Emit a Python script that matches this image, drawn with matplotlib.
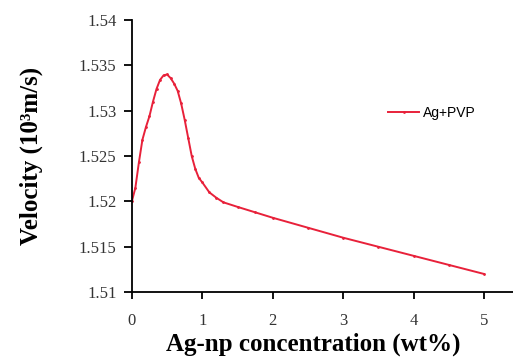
import matplotlib.pyplot as plt
from matplotlib.ticker import FormatStrFormatter

# concentration (wt%) and velocity (10^3 m/s)
conc = [0, 0.05, 0.1, 0.15, 0.2, 0.25, 0.3, 0.35, 0.4, 0.45, 0.5, 0.55, 0.6,
        0.65, 0.7, 0.75, 0.8, 0.85, 0.9, 0.95, 1.0, 1.1, 1.2, 1.3, 1.5, 1.75,
        2, 2.5, 3, 3.5, 4, 4.5, 5]
velocity = [1.5200, 1.5215, 1.5243, 1.5268, 1.5282, 1.5294, 1.5310, 1.5324,
            1.5334, 1.5339, 1.5340, 1.5336, 1.5330, 1.5322, 1.5308, 1.5290,
            1.5270, 1.5250, 1.5236, 1.5226, 1.5221, 1.5210, 1.5204, 1.5199,
            1.5194, 1.5188, 1.5182, 1.5171, 1.5160, 1.5150, 1.5140, 1.5130,
            1.5120]
x_ticks = [0, 1, 2, 3, 4, 5]
y_ticks = [1.51, 1.515, 1.52, 1.525, 1.53, 1.535, 1.54]

fig = plt.figure(figsize=(5.13, 3.58), dpi=100)
ax = fig.add_axes([0.257, 0.184, 0.743, 0.76])

ax.plot(conc, velocity, color='#e8213a', linewidth=1.4, marker='.',
        markersize=2, label='Ag+PVP')

ax.set_xlim(0, 5.41)
ax.set_ylim(1.51, 1.54)
ax.set_xticks(x_ticks)
ax.set_yticks(y_ticks)
ax.yaxis.set_major_formatter(FormatStrFormatter('%g'))

ax.spines['top'].set_visible(False)
ax.spines['right'].set_visible(False)
ax.spines['left'].set_linewidth(1.3)
ax.spines['bottom'].set_linewidth(1.3)

for lab in ax.get_xticklabels() + ax.get_yticklabels():
    lab.set_family('Liberation Serif')
    lab.set_fontsize(12)
    lab.set_color('#333333')
ax.tick_params(axis='x', direction='out', length=5, width=1.3, pad=10)
ax.tick_params(axis='y', direction='out', length=6, width=1.3, pad=5)

ax.set_xlabel('Ag-np concentration (wt%)', family='Liberation Serif',
              fontweight='bold', fontsize=18)
ax.xaxis.set_label_coords(0.476, -0.15)
ax.set_ylabel('Velocity (10³m/s)', family='Liberation Serif',
              fontweight='bold', fontsize=18)
ax.yaxis.set_label_coords(-0.234, 0.5)

ax.legend(loc='center left', bbox_to_anchor=(0.64, 0.66), frameon=False,
          prop={'family': 'Liberation Sans', 'size': 10}, handlelength=2.2,
          handletextpad=0.3)

fig.savefig('out.png', dpi=100)
